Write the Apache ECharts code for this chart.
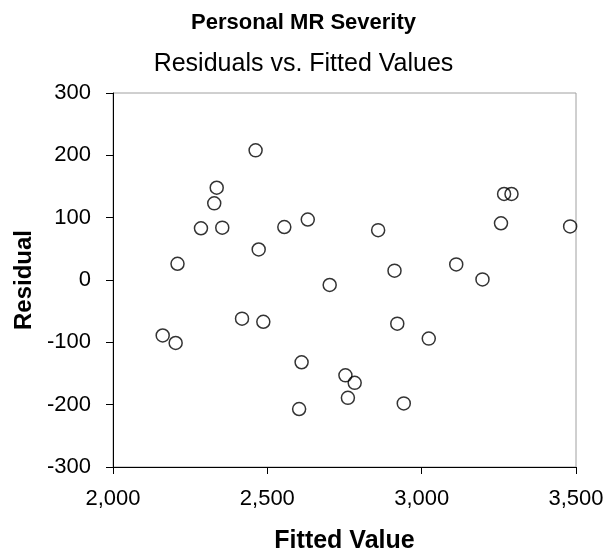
<!DOCTYPE html>
<html>
<head>
<meta charset="utf-8">
<script src="https://cdn.jsdelivr.net/npm/echarts@6/dist/echarts.min.js"></script>
<style>
  html, body { margin: 0; padding: 0; background: #fff; }
  #main { width: 607px; height: 558px; }
</style>
</head>
<body>
<div id="main"></div>
<script>
// fitted values and residuals
var fitted = [2462, 2336, 2328, 2285, 2354, 2555, 2631, 2472, 2209,
              2859, 3267, 3291, 3257, 3481, 2912, 3112, 3197,
              2702, 2418, 2487, 2161, 2203, 2611, 2603, 2753, 2783, 2761,
              2921, 3023, 2942];
var residual = [208, 148, 123, 83, 84, 85, 97, 49, 26,
                80, 138, 138, 91, 86, 15, 25, 1,
                -8, -62, -67, -89, -101, -132, -207, -153, -165, -189,
                -70, -94, -198];

var points = [];
for (var i = 0; i < fitted.length; i++) {
    points.push([fitted[i], residual[i]]);
}

var myChart = echarts.init(document.getElementById('main'));

var font = 'Liberation Sans, Arial, sans-serif';

var option = {
    animation: false,
    backgroundColor: '#fff',
    textStyle: { fontFamily: font },
    title: [{
        text: 'Personal MR Severity',
        left: 'center',
        top: 7,
        textStyle: { fontFamily: font, fontSize: 22, fontWeight: 'bold', color: '#000' }
    }, {
        text: 'Residuals vs. Fitted Values',
        left: 'center',
        top: 47,
        textStyle: { fontFamily: font, fontSize: 25, fontWeight: 'normal', color: '#000' }
    }],
    grid: {
        left: 113,
        right: 31,
        top: 93,
        bottom: 91,
        outerBoundsMode: 'none',
        containLabel: false,
        show: true,
        borderColor: '#a0a0a0',
        borderWidth: 1
    },
    xAxis: {
        type: 'value',
        min: 2000,
        max: 3500,
        interval: 500,
        name: 'Fitted Value',
        nameLocation: 'middle',
        nameGap: 62,
        nameTextStyle: { fontFamily: font, fontSize: 25, fontWeight: 'bold', color: '#000' },
        axisLine: { show: true, onZero: false, lineStyle: { color: '#000', width: 1 } },
        axisTick: { show: true, inside: false, length: 7, lineStyle: { color: '#000' } },
        axisLabel: {
            margin: 21,
            fontSize: 22,
            color: '#000',
            formatter: function (v) { return v.toLocaleString('en-US'); }
        },
        splitLine: { show: false }
    },
    yAxis: {
        type: 'value',
        min: -300,
        max: 300,
        interval: 100,
        name: 'Residual',
        nameLocation: 'middle',
        nameGap: 77,
        nameTextStyle: { fontFamily: font, fontSize: 24, fontWeight: 'bold', color: '#000' },
        axisLine: { show: true, onZero: false, lineStyle: { color: '#000', width: 1 } },
        axisTick: { show: true, inside: false, length: 7, lineStyle: { color: '#000' } },
        axisLabel: { margin: 22, fontSize: 22, color: '#000' },
        splitLine: { show: false }
    },
    series: [{
        type: 'scatter',
        data: points,
        symbol: 'circle',
        symbolSize: 13,
        itemStyle: {
            color: 'rgba(0,0,0,0)',
            borderColor: '#000',
            borderWidth: 1.5
        }
    }]
};

myChart.setOption(option);
</script>
</body>
</html>
